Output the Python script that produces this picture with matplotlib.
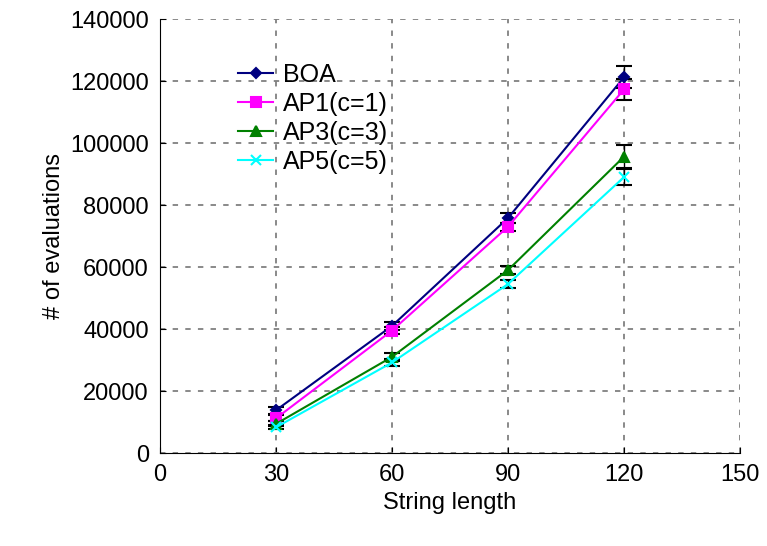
import matplotlib.pyplot as plt
from matplotlib.lines import Line2D

# Datos
lengths = [30, 60, 90, 120]
boa = [13800, 41000, 75800, 121200]
boa_err = [1200, 1300, 1500, 3500]
ap1 = [11200, 39500, 73000, 117300]
ap1_err = [1000, 1200, 1300, 3300]
ap3 = [9400, 31000, 59000, 95600]
ap3_err = [800, 1300, 1300, 3800]
ap5 = [8300, 29200, 54500, 89000]
ap5_err = [700, 1000, 1200, 2700]

plt.rcParams['font.family'] = ['Liberation Sans', 'DejaVu Sans']

fig = plt.figure(figsize=(7.67, 5.46), dpi=100)
ax = fig.add_axes([0.2086, 0.1703, 0.7562, 0.7949])

series = [
    (boa, boa_err, '#000080', 'D', 5, 'BOA'),
    (ap1, ap1_err, '#ff00ff', 's', 7, 'AP1(c=1)'),
    (ap3, ap3_err, '#008000', '^', 7, 'AP3(c=3)'),
    (ap5, ap5_err, '#00ffff', 'x', 7, 'AP5(c=5)'),
]
handles = []
for vals, err, col, mk, ms, lab in series:
    ax.errorbar(lengths, vals, yerr=err, color=col, marker=mk, markersize=ms,
                linewidth=1.5, ecolor='black', elinewidth=1.0, capsize=6,
                capthick=1.5, markeredgewidth=1.5)
    handles.append(Line2D([], [], color=col, marker=mk, markersize=ms,
                          linewidth=1.5, markeredgewidth=1.5, label=lab))

ax.set_xlim(0, 150)
ax.set_ylim(0, 140000)
ax.set_xticks([0, 30, 60, 90, 120, 150])
ax.set_yticks(range(0, 140001, 20000))
ax.tick_params(direction='in', labelsize=17, length=4, pad=8)
ax.grid(True, color='gray', linestyle=(0, (3, 4)), linewidth=1.3)
ax.spines['top'].set_visible(False)
ax.spines['right'].set_visible(False)
ax.set_xlabel('String length', fontsize=17)
ax.set_ylabel('# of evaluations', fontsize=17)

ax.legend(handles=handles, loc='upper left', bbox_to_anchor=(0.105, 0.94),
          frameon=False, fontsize=18, handlelength=1.4, handletextpad=0.4,
          labelspacing=0.2, borderpad=0.2)

plt.savefig('out.png')
